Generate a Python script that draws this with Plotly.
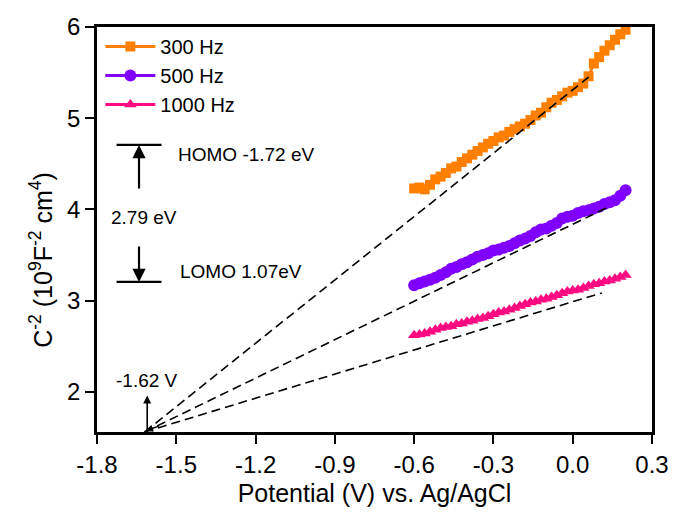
import plotly.graph_objects as go

potential = [-0.60, -0.58, -0.56, -0.54, -0.52, -0.50, -0.48, -0.46, -0.44, -0.42,
             -0.40, -0.38, -0.36, -0.34, -0.32, -0.30, -0.28, -0.26, -0.24, -0.22,
             -0.20, -0.18, -0.16, -0.14, -0.12, -0.10, -0.08, -0.06, -0.04, -0.02,
             0.00, 0.02, 0.04, 0.06, 0.08, 0.10, 0.12, 0.14, 0.16, 0.18, 0.20]

c300 = [4.23, 4.24, 4.22, 4.27, 4.33, 4.36, 4.40, 4.45, 4.47, 4.52,
        4.56, 4.60, 4.64, 4.68, 4.72, 4.75, 4.79, 4.81, 4.85, 4.88,
        4.91, 4.94, 4.98, 5.03, 5.06, 5.12, 5.17, 5.20, 5.24, 5.28,
        5.30, 5.34, 5.38, 5.46, 5.60, 5.67, 5.74, 5.80, 5.86, 5.92, 5.97]

c500 = [3.17, 3.19, 3.21, 3.23, 3.25, 3.28, 3.31, 3.35, 3.37, 3.40,
        3.42, 3.45, 3.48, 3.50, 3.52, 3.55, 3.56, 3.58, 3.60, 3.63,
        3.66, 3.68, 3.71, 3.75, 3.78, 3.79, 3.82, 3.85, 3.90, 3.92,
        3.93, 3.96, 3.98, 3.99, 4.01, 4.03, 4.06, 4.08, 4.10, 4.15, 4.21]

c1000 = [2.62, 2.63, 2.64, 2.66, 2.68, 2.70, 2.71, 2.72, 2.74, 2.75,
         2.77, 2.78, 2.80, 2.81, 2.83, 2.85, 2.87, 2.88, 2.90, 2.92,
         2.94, 2.96, 2.98, 2.99, 3.01, 3.02, 3.04, 3.06, 3.08, 3.10,
         3.11, 3.12, 3.14, 3.16, 3.18, 3.19, 3.21, 3.22, 3.24, 3.26, 3.28]

series_names = ["300 Hz", "500 Hz", "1000 Hz"]
series_colors = ["#FF8000", "#8000FF", "#FF0A80"]
series_symbols = ["square", "circle", "triangle-up"]
series_sizes = [10, 12, 11]

# Mott-Schottky linear fits: common intercept and end points
fb_potential = -1.62
fb_c = 1.56
fit_end_x = [0.06, 0.13, 0.11]
fit_end_y = [5.45, 4.02, 3.085]

# energy level diagram (HOMO / LOMO)
level_x = [-1.726, -1.556]
homo_y = 4.707
lomo_y = 3.205
arrow_x = -1.641
homo_arrow_tail = 4.214
lomo_arrow_tail = 3.611

xticks = [-1.8, -1.5, -1.2, -0.9, -0.6, -0.3, 0.0, 0.3]
yticks = [2, 3, 4, 5, 6]

font = "Liberation Sans, Arial, sans-serif"

fig = go.Figure()

for i, ys in enumerate([c300, c500, c1000]):
    fig.add_trace(go.Scatter(
        x=potential, y=ys, mode="lines+markers", name=series_names[i],
        line=dict(color=series_colors[i], width=3),
        marker=dict(symbol=series_symbols[i], size=series_sizes[i], color=series_colors[i]),
    ))

for i in range(3):
    fig.add_trace(go.Scatter(
        x=[fb_potential, fit_end_x[i]], y=[fb_c, fit_end_y[i]], mode="lines",
        line=dict(color="black", width=1.6, dash="9px,5px"), showlegend=False, hoverinfo="skip",
    ))

# level lines
for ly in [homo_y, lomo_y]:
    fig.add_shape(type="line", x0=level_x[0], x1=level_x[1], y0=ly, y1=ly,
                  xref="x", yref="y", line=dict(color="black", width=2.2))

ann = []
ann.append(dict(x=arrow_x, y=homo_y, ax=arrow_x, ay=homo_arrow_tail, xref="x", yref="y",
                axref="x", ayref="y", showarrow=True, arrowhead=2, arrowsize=1.2,
                arrowwidth=2.2, arrowcolor="black", text=""))
ann.append(dict(x=arrow_x, y=lomo_y, ax=arrow_x, ay=lomo_arrow_tail, xref="x", yref="y",
                axref="x", ayref="y", showarrow=True, arrowhead=2, arrowsize=1.2,
                arrowwidth=2.2, arrowcolor="black", text=""))
ann.append(dict(x=-1.50, y=4.60, xref="x", yref="y", text="HOMO -1.72 eV", showarrow=False,
                xanchor="left", font=dict(size=19, color="black", family=font)))
ann.append(dict(x=-1.493, y=3.315, xref="x", yref="y", text="LOMO 1.07eV", showarrow=False,
                xanchor="left", font=dict(size=19, color="black", family=font)))
ann.append(dict(x=-1.622, y=3.907, xref="x", yref="y", text="2.79 eV", showarrow=False,
                font=dict(size=19, color="black", family=font)))
# flat-band potential
ann.append(dict(x=fb_potential + 0.01, y=1.96, ax=fb_potential + 0.01, ay=1.56, xref="x", yref="y",
                axref="x", ayref="y", showarrow=True, arrowhead=2, arrowsize=1,
                arrowwidth=1.6, arrowcolor="black", text=""))
ann.append(dict(x=fb_potential + 0.005, y=1.575, ax=fb_potential + 0.06, ay=1.63, xref="x", yref="y",
                axref="x", ayref="y", showarrow=True, arrowhead=2, arrowsize=1,
                arrowwidth=1.4, arrowcolor="black", text=""))
ann.append(dict(x=fb_potential + 0.01, y=2.13, xref="x", yref="y", text="-1.62 V", showarrow=False,
                font=dict(size=19, color="black", family=font)))
# y-axis title (placed slightly below the plot centre, as in the reference)
ann.append(dict(x=-0.101, y=0.425, xref="paper", yref="paper", textangle=-90, showarrow=False,
                text="C<sup>-2</sup> (10<sup>9</sup>F<sup>-2</sup> cm<sup>4</sup>)",
                xanchor="center", yanchor="middle",
                font=dict(size=25, color="black", family=font)))

fig.update_layout(
    width=681, height=527,
    margin=dict(l=97, r=20, t=27, b=95),
    paper_bgcolor="white", plot_bgcolor="white",
    font=dict(family=font, color="black"),
    annotations=ann,
    legend=dict(x=0.006, y=1.0, xanchor="left", yanchor="top", bgcolor="rgba(0,0,0,0)",
                font=dict(size=20, color="black", family=font), tracegroupgap=0,
                itemwidth=50),
    showlegend=True,
)

fig.update_xaxes(
    range=[-1.8, 0.3], tickvals=xticks, ticktext=[f"{v:.1f}" for v in xticks],
    showline=True, linecolor="black", linewidth=2.5, mirror=True,
    ticks="outside", ticklen=9, tickwidth=2.2, tickcolor="black",
    showgrid=False, zeroline=False, ticklabeloverflow="allow",
    tickfont=dict(size=24, family=font, color="black"),
    title=dict(text="Potential (V) vs. Ag/AgCl", font=dict(size=25, family=font, color="black"), standoff=8),
)
fig.update_yaxes(
    range=[1.56, 6], tickvals=yticks,
    showline=True, linecolor="black", linewidth=2.5, mirror=True,
    ticks="outside", ticklen=9, tickwidth=2.2, tickcolor="black",
    showgrid=False, zeroline=False,
    tickfont=dict(size=24, family=font, color="black"),
)

fig.write_html("out.html", config={"displayModeBar": False},
               post_script="document.body.style.margin='0px';")
